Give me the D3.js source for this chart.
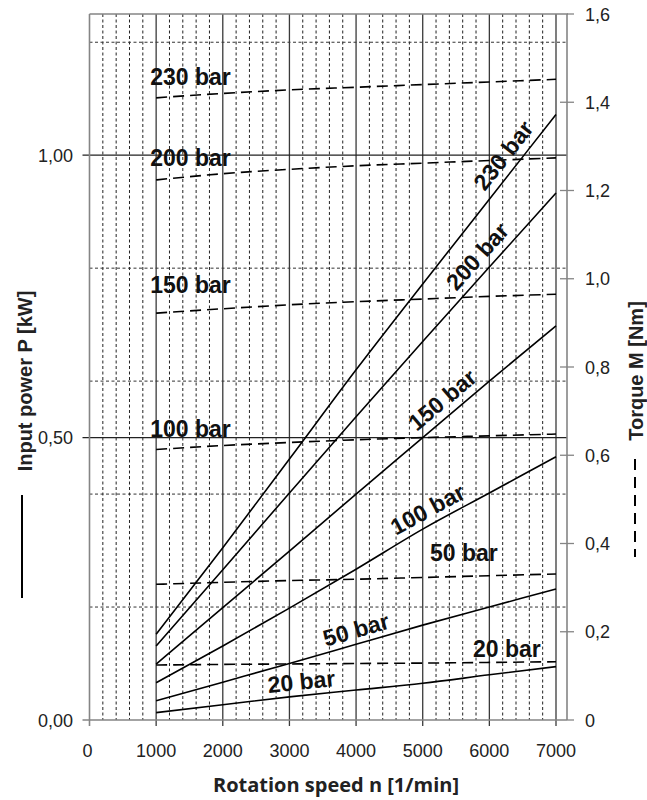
<!DOCTYPE html>
<html>
<head>
<meta charset="utf-8">
<script src="https://cdn.jsdelivr.net/npm/d3@7"></script>
<style>
  html, body { margin: 0; padding: 0; background: #fff; }
  svg { display: block; }
</style>
</head>
<body>
<svg id="chart" width="647" height="800"></svg>
<script>
// ---------------- DATA ----------------
const rpm = [1000, 2000, 3000, 4000, 5000, 6000, 7000];
const pressureLabels = ["230 bar", "200 bar", "150 bar", "100 bar", "50 bar", "20 bar"];

// Input power P [kW] (solid lines, left axis)
const power230 = [0.152, 0.305, 0.462, 0.620, 0.772, 0.922, 1.072];
const power200 = [0.131, 0.266, 0.402, 0.537, 0.670, 0.802, 0.933];
const power150 = [0.099, 0.199, 0.299, 0.400, 0.500, 0.600, 0.698];
const power100 = [0.066, 0.131, 0.198, 0.267, 0.338, 0.402, 0.466];
const power50  = [0.034, 0.067, 0.100, 0.134, 0.168, 0.200, 0.232];
const power20  = [0.013, 0.027, 0.041, 0.053, 0.065, 0.080, 0.0945];

// Torque M [Nm] (dashed lines, right axis)
const torque230 = [1.410, 1.420, 1.428, 1.434, 1.440, 1.446, 1.452];
const torque200 = [1.224, 1.238, 1.248, 1.256, 1.262, 1.268, 1.274];
const torque150 = [0.922, 0.932, 0.941, 0.948, 0.954, 0.960, 0.965];
const torque100 = [0.613, 0.622, 0.629, 0.635, 0.640, 0.644, 0.648];
const torque50  = [0.3075, 0.312, 0.316, 0.319, 0.323, 0.327, 0.331];
const torque20  = [0.1246, 0.126, 0.127, 0.128, 0.129, 0.1305, 0.132];

// Axis ticks
const xTicks = [0, 1000, 2000, 3000, 4000, 5000, 6000, 7000];
const powerTicks = [0, 0.5, 1.0];
const torqueTicks = [0, 0.2, 0.4, 0.6, 0.8, 1.0, 1.2, 1.4, 1.6];
const powerMinorGrid = [0.2, 0.4, 0.6, 0.8, 1.2];
const rpmMinorGrid = d3.range(200, 7000, 200).filter(v => v % 1000 !== 0);

const xTitle = "Rotation speed n [1/min]";
const yLeftTitle = "Input power P [kW]";
const yRightTitle = "Torque M [Nm]";

// ---------------- LAYOUT ----------------
const L = { left: 89.5, right: 567, top: 14, bottom: 720, x7000: 556 };
const svg = d3.select("#chart");

const x = d3.scaleLinear().domain([0, 7000]).range([L.left, L.x7000]);
const yP = d3.scaleLinear().domain([0, 1.25]).range([L.bottom, L.top]);
const yM = d3.scaleLinear().domain([0, 1.6]).range([L.bottom, L.top]);

const powers = [power230, power200, power150, power100, power50, power20];
const torques = [torque230, torque200, torque150, torque100, torque50, torque20];

const axisGray = "#858585";
const tickFont = "'Liberation Sans', Arial, sans-serif";

// ---------- grid ----------
const g = svg.append("g");
g.selectAll(".vmin").data(rpmMinorGrid).enter().append("line")
  .attr("x1", d => x(d)).attr("x2", d => x(d))
  .attr("y1", L.top).attr("y2", L.bottom)
  .attr("stroke", "#222").attr("stroke-width", 1).attr("stroke-dasharray", "3,2.5");
g.selectAll(".hmin").data(powerMinorGrid).enter().append("line")
  .attr("x1", L.left).attr("x2", L.right)
  .attr("y1", d => yP(d)).attr("y2", d => yP(d))
  .attr("stroke", "#333").attr("stroke-width", 1).attr("stroke-dasharray", "3,2.5");
g.selectAll(".vmaj").data(xTicks.filter(d => d > 0)).enter().append("line")
  .attr("x1", d => x(d)).attr("x2", d => x(d))
  .attr("y1", L.top).attr("y2", L.bottom + 6)
  .attr("stroke", "#3a3a3a").attr("stroke-width", 1.3);
g.selectAll(".hmaj").data(powerTicks.filter(d => d > 0)).enter().append("line")
  .attr("x1", L.left - 7).attr("x2", L.right)
  .attr("y1", d => yP(d)).attr("y2", d => yP(d))
  .attr("stroke", "#222").attr("stroke-width", 1.2);

// ---------- frame / axes ----------
svg.append("line").attr("x1", L.left).attr("x2", L.right + 1).attr("y1", L.top).attr("y2", L.top)
  .attr("stroke", axisGray).attr("stroke-width", 1.6);
svg.append("line").attr("x1", L.left).attr("x2", L.left).attr("y1", L.top).attr("y2", L.bottom + 6)
  .attr("stroke", axisGray).attr("stroke-width", 1.6);
svg.append("line").attr("x1", L.left - 7).attr("x2", L.right).attr("y1", L.bottom).attr("y2", L.bottom)
  .attr("stroke", axisGray).attr("stroke-width", 1.6);
svg.append("line").attr("x1", L.right).attr("x2", L.right).attr("y1", L.top).attr("y2", L.bottom)
  .attr("stroke", axisGray).attr("stroke-width", 1.6);
svg.selectAll(".rt").data(torqueTicks.filter(d => d > 0 && d < 1.6)).enter().append("line")
  .attr("x1", L.right - 7).attr("x2", L.right + 7)
  .attr("y1", d => yM(d)).attr("y2", d => yM(d))
  .attr("stroke", axisGray).attr("stroke-width", 1.3);
svg.append("line").attr("x1", L.right).attr("x2", L.right + 7)
  .attr("y1", yM(1.6)).attr("y2", yM(1.6)).attr("stroke", axisGray).attr("stroke-width", 1.3);
svg.append("line").attr("x1", L.right).attr("x2", L.right + 7)
  .attr("y1", yM(0)).attr("y2", yM(0)).attr("stroke", axisGray).attr("stroke-width", 1.3);

// ---------- tick labels ----------
const commaFmt = f => (v => f(v).replace(".", ","));
const fmtP = commaFmt(d3.format(".2f"));
const fmtM = v => v === 0 ? "0" : commaFmt(d3.format(".1f"))(v);

svg.selectAll(".xl").data(xTicks).enter().append("text")
  .attr("x", d => x(d) - (d === 0 ? 2 : 0)).attr("y", 757)
  .attr("text-anchor", "middle")
  .attr("font-family", tickFont).attr("font-size", 18).attr("fill", "#222")
  .text(d => d);

svg.selectAll(".yl").data(powerTicks).enter().append("text")
  .attr("x", 73).attr("y", d => yP(d) + 6.5)
  .attr("text-anchor", "end")
  .attr("font-family", tickFont).attr("font-size", 18).attr("fill", "#222")
  .text(fmtP);

svg.selectAll(".yr").data(torqueTicks).enter().append("text")
  .attr("x", 585).attr("y", d => yM(d) + 6.5)
  .attr("text-anchor", "start")
  .attr("font-family", tickFont).attr("font-size", 18).attr("fill", "#222")
  .text(fmtM);

// ---------- curves ----------
const linePower = d3.line().x((d, i) => x(rpm[i])).y(d => yP(d)).curve(d3.curveMonotoneX);
const lineTorque = d3.line().x((d, i) => x(rpm[i])).y(d => yM(d)).curve(d3.curveMonotoneX);

svg.selectAll(".pw").data(powers).enter().append("path")
  .attr("d", linePower).attr("fill", "none")
  .attr("stroke", "#000").attr("stroke-width", 1.6);

svg.selectAll(".tq").data(torques).enter().append("path")
  .attr("d", lineTorque).attr("fill", "none")
  .attr("stroke", "#000").attr("stroke-width", 1.6).attr("stroke-dasharray", "11,6");

// ---------- curve labels ----------
const barFont = "'Liberation Sans', Arial, sans-serif";
function interp(arr, n) {
  return d3.scaleLinear().domain(rpm).range(arr)(n);
}
// power labels: [index, rpm at label centre, offset above line]
const powerLabelPos = [[0, 6400, 8], [1, 6000, 8], [2, 5450, 8], [3, 5180, 7], [4, 4060, 6], [5, 3200, 6]];
powerLabelPos.forEach(([i, n, off]) => {
  const px = x(n), py = yP(interp(powers[i], n));
  const dx = x(n + 100) - x(n - 100);
  const dy = yP(interp(powers[i], n + 100)) - yP(interp(powers[i], n - 100));
  const ang = Math.atan2(dy, dx) * 180 / Math.PI;
  svg.append("text")
    .attr("transform", `translate(${px},${py}) rotate(${ang})`)
    .attr("y", -off)
    .attr("text-anchor", "middle")
    .attr("font-family", barFont).attr("font-weight", "bold").attr("font-size", 23)
    .attr("fill", "#111")
    .text(pressureLabels[i]);
});
// torque labels: [index, rpm at label start, baseline offset above line]
const torqueLabelPos = [[0, 910, 13], [1, 910, 14], [2, 910, 20], [3, 910, 12.5], [4, 5110, 16], [5, 5755, 5.5]];
torqueLabelPos.forEach(([i, n, off]) => {
  const lineN = Math.max(n, 1000);
  svg.append("text")
    .attr("x", x(n)).attr("y", yM(interp(torques[i], lineN)) - off)
    .attr("font-family", barFont).attr("font-weight", "bold").attr("font-size", 23)
    .attr("fill", "#111")
    .text(pressureLabels[i]);
});

// ---------- axis titles ----------
svg.append("text")
  .attr("x", 336).attr("y", 792)
  .attr("text-anchor", "middle")
  .attr("font-family", "'Open Sans', sans-serif").attr("font-weight", "bold").attr("font-size", 20)
  .attr("fill", "#222")
  .text(xTitle);

svg.append("text")
  .attr("transform", "translate(32,381) rotate(-90)")
  .attr("text-anchor", "middle")
  .attr("font-family", barFont).attr("font-weight", "bold").attr("font-size", 20)
  .attr("fill", "#222")
  .text(yLeftTitle);
svg.append("line").attr("x1", 22).attr("x2", 22).attr("y1", 495).attr("y2", 598)
  .attr("stroke", "#000").attr("stroke-width", 2);

svg.append("text")
  .attr("transform", "translate(643,371) rotate(-90)")
  .attr("text-anchor", "middle")
  .attr("font-family", barFont).attr("font-weight", "bold").attr("font-size", 20)
  .attr("fill", "#222")
  .text(yRightTitle);
svg.append("line").attr("x1", 635).attr("x2", 635).attr("y1", 459).attr("y2", 557)
  .attr("stroke", "#000").attr("stroke-width", 2).attr("stroke-dasharray", "11,7");
</script>
</body>
</html>
